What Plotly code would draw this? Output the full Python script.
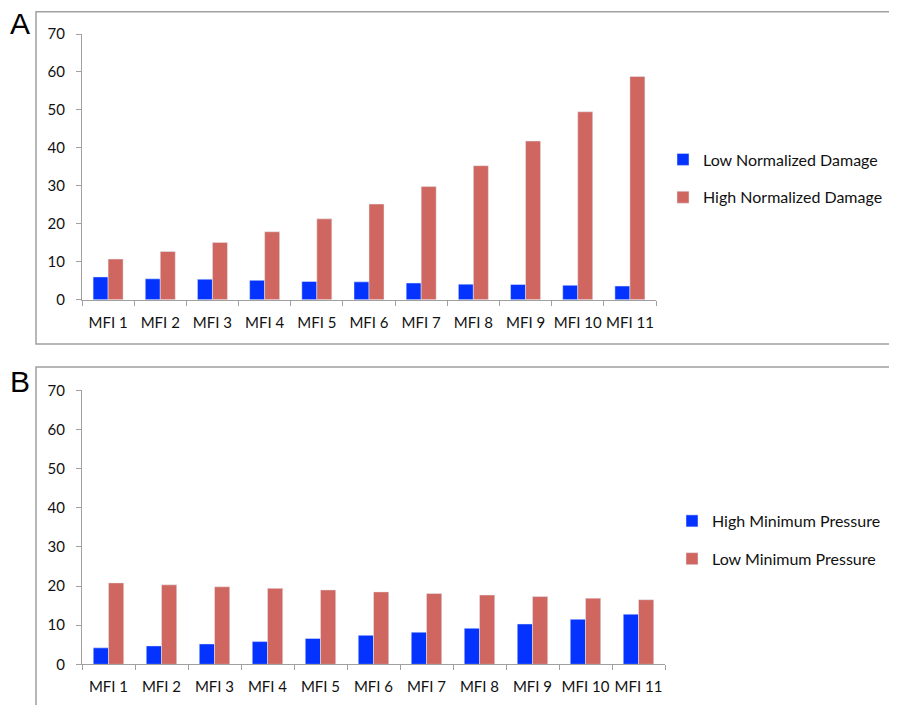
import plotly.graph_objects as go

# The page body has an 8px default margin, so the figure is drawn 8px smaller
# and every reference pixel position is shifted by that offset.
OFF = 8
W, H = 897 - OFF, 705 - OFF

categories = ["MFI 1", "MFI 2", "MFI 3", "MFI 4", "MFI 5", "MFI 6",
              "MFI 7", "MFI 8", "MFI 9", "MFI 10", "MFI 11"]

low_norm_damage = [6.0, 5.5, 5.4, 5.1, 4.8, 4.7, 4.4, 4.1, 4.0, 3.8, 3.6]
high_norm_damage = [10.7, 12.7, 15.1, 17.9, 21.3, 25.2, 29.8, 35.3, 41.8, 49.5, 58.8]

high_min_pressure = [4.2, 4.7, 5.2, 5.8, 6.6, 7.4, 8.2, 9.2, 10.3, 11.5, 12.8]
low_min_pressure = [20.8, 20.3, 19.8, 19.4, 19.0, 18.5, 18.1, 17.7, 17.3, 16.9, 16.5]

y_ticks = [0, 10, 20, 30, 40, 50, 60, 70]

BLUE = "#0433FF"
RED = "#CF665F"
AXIS = "#A0A0A0"
FONT = "Lato"


def px(x):
    return (x - OFF) / W


def py(y):
    return 1 - (y - OFF) / H


fig = go.Figure()

fig.add_trace(go.Bar(x=categories, y=low_norm_damage, name="Low Normalized Damage",
                     marker_color=BLUE, xaxis="x", yaxis="y", legend="legend",
                     legendgroup="a1"))
fig.add_trace(go.Bar(x=categories, y=high_norm_damage, name="High Normalized Damage",
                     marker_color=RED, xaxis="x", yaxis="y", legend="legend",
                     legendgroup="a2"))
fig.add_trace(go.Bar(x=categories, y=high_min_pressure, name="High Minimum Pressure",
                     marker_color=BLUE, xaxis="x2", yaxis="y2", legend="legend2",
                     legendgroup="b1"))
fig.add_trace(go.Bar(x=categories, y=low_min_pressure, name="Low Minimum Pressure",
                     marker_color=RED, xaxis="x2", yaxis="y2", legend="legend2",
                     legendgroup="b2"))

xcommon = dict(type="category", showline=True, linecolor=AXIS, linewidth=1.3,
               ticks="outside", tickson="boundaries", ticklen=5, tickcolor=AXIS,
               showgrid=False, zeroline=False, ticklabelstandoff=9, tickangle=0,
               tickfont=dict(family=FONT, size=15, color="#111"))
ycommon = dict(range=[0, 70], tickvals=y_ticks, showline=True, linecolor=AXIS,
               linewidth=1.3, ticks="outside", ticklen=5, tickcolor=AXIS,
               showgrid=False, zeroline=False, ticklabelstandoff=8,
               tickfont=dict(family=FONT, size=15, color="#111"))

legcommon = dict(font=dict(family=FONT, size=16, color="#111"),
                 bgcolor="rgba(0,0,0,0)", tracegroupgap=14,
                 xanchor="left", yanchor="middle", traceorder="grouped")

fig.update_layout(
    width=W, height=H,
    margin=dict(l=0, r=0, t=0, b=0, autoexpand=False),
    paper_bgcolor="white", plot_bgcolor="white",
    barmode="group", bargap=0.425, bargroupgap=0,
    xaxis=dict(domain=[px(82), px(656)], anchor="y", **xcommon),
    yaxis=dict(domain=[py(299.7), py(34)], anchor="x", **ycommon),
    xaxis2=dict(domain=[px(82), px(665)], anchor="y2", **xcommon),
    yaxis2=dict(domain=[py(664.3), py(390.3)], anchor="x2", **ycommon),
    legend=dict(x=px(663), y=py(178.5), **legcommon),
    legend2=dict(x=px(672), y=py(540), **legcommon),
    showlegend=True,
)

# panel frames
fig.add_shape(type="rect", xref="paper", yref="paper",
              x0=px(36), x1=px(910), y0=py(344), y1=py(11.7),
              line=dict(color=AXIS, width=1.5), layer="below")
fig.add_shape(type="rect", xref="paper", yref="paper",
              x0=px(36), x1=px(910), y0=py(720), y1=py(367),
              line=dict(color=AXIS, width=1.5), layer="below")

# panel letters
fig.add_annotation(text="A", xref="paper", yref="paper", x=px(20), y=py(24),
                   showarrow=False, font=dict(family="Liberation Sans", size=30, color="black"),
                   xanchor="center", yanchor="middle")
fig.add_annotation(text="B", xref="paper", yref="paper", x=px(20), y=py(381),
                   showarrow=False, font=dict(family="Liberation Sans", size=30, color="black"),
                   xanchor="center", yanchor="middle")

fig.write_html("out.html")
